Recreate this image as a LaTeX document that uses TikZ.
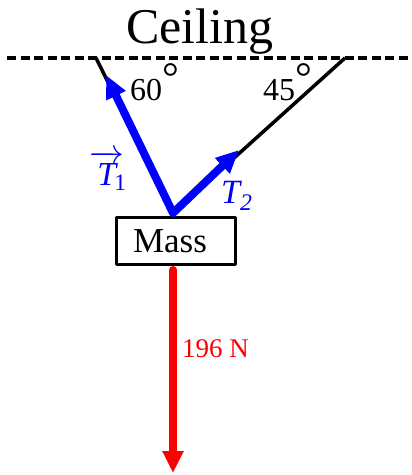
\documentclass[tikz,border=0pt]{standalone}
\usepackage{fontspec}
\usepackage{amsmath}
\usepackage{graphicx}
\setmainfont{Liberation Serif}
\usetikzlibrary{arrows.meta}
\newcommand{\degmark}{{\fontsize{42pt}{42pt}\selectfont\raisebox{9pt}{°}}}
\begin{document}
\begin{tikzpicture}[x=1pt, y=-1pt, line join=round]
\tikzstyle{rope} = [draw,line width=3.5pt,black]
\tikzstyle{pullarrow} = [draw,line width=8pt,line cap=round,blue,-{Triangle[length=23pt,width=20pt]}]
\tikzstyle{weightarrow} = [draw,line width=8pt,line cap=round,red,-{Triangle[length=22pt,width=20pt]}]
\useasboundingbox (0,0) rectangle (412,475);
  \foreach \n/\x/\y in {cL/96/58,cR/345/58,J/173/213,t1/106/75,t2/239/150,w/173/473}{
    \coordinate (\n) at (\x,\y);
  }
  \node[anchor=base] (ceil) at (200,43) {\fontsize{50pt}{50pt}\selectfont Ceiling};
  \draw[line width=4pt,dash pattern=on 9pt off 4.5pt] (7,58) -- (412,58);
  \draw[rope] (cL) -- (J);
  \draw[rope] (cR) -- (J);
  \node[draw,line width=3pt,minimum width=119pt,minimum height=47pt,inner sep=0pt] (mass) at (176,241) {\fontsize{35pt}{35pt}\selectfont Mass\hspace*{12pt}};
  \draw[pullarrow] (J) -- (t1);
  \draw[pullarrow] (J) -- (t2);
  \draw[weightarrow] (173,270) -- (w);
  \node[anchor=base west,red,inner sep=0pt] (N) at (182,357) {\fontsize{27pt}{27pt}\selectfont 196 N};
  \node[anchor=base west,inner sep=0pt] (a60) at (130,100) {\fontsize{32pt}{32pt}\selectfont 60\degmark};
  \node[anchor=base west,inner sep=0pt] (a45) at (263,100) {\fontsize{32pt}{32pt}\selectfont 45\degmark};
  \node[anchor=base west,blue,inner sep=0pt] (T1) at (89,185) {\fontsize{24pt}{24pt}\selectfont\scalebox{1.4}{$\overrightarrow{\text{\itshape T}}\mkern-5mu{}_{\text{1}}$}};
  \node[anchor=base west,blue,inner sep=0pt] (T2) at (221,203) {\fontsize{34pt}{34pt}\selectfont $\text{\itshape T}_{\text{\itshape 2}}$};
\end{tikzpicture}
\end{document}
